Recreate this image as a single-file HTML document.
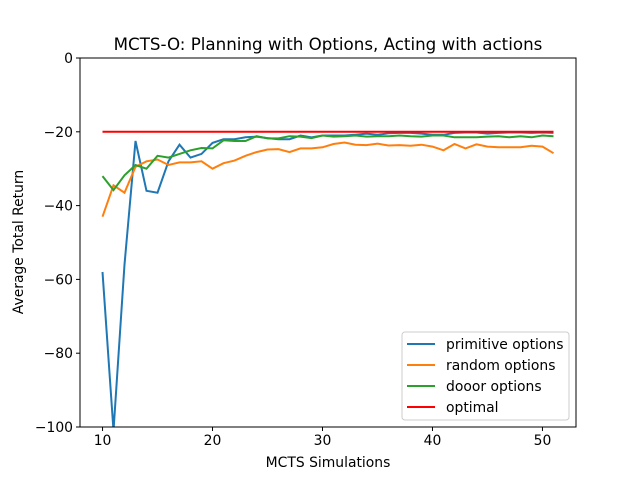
<!DOCTYPE html>
<html><head><meta charset="utf-8"><style>
body{margin:0;background:#fff;}
svg text{font-family:"DejaVu Sans","Liberation Sans",sans-serif;}
</style></head><body>
<svg id="chart" width="640" height="480" xmlns="http://www.w3.org/2000/svg">
<rect width="640" height="480" fill="#fff"/>
<text x="328" y="50" font-size="16.7" text-anchor="middle">MCTS-O: Planning with Options, Acting with actions</text>
<g id="plot"></g>
<rect x="80" y="58" width="496" height="369" fill="none" stroke="#000" stroke-width="1"/>
<text x="328" y="467" font-size="13.9" text-anchor="middle">MCTS Simulations</text>
<text x="23" y="242" font-size="13.9" text-anchor="middle" transform="rotate(-90 23 242)">Average Total Return</text>
<g id="legend">
<rect x="402" y="332" width="167" height="88" rx="3" fill="#fff" stroke="#ccc"/>
</g>
</svg>
<script>
const xs = [10,11,12,13,14,15,16,17,18,19,20,21,22,23,24,25,26,27,28,29,30,31,32,33,34,35,36,37,38,39,40,41,42,43,44,45,46,47,48,49,50,51];
const primitive = [-58,-101,-56,-22.5,-36,-36.5,-28,-23.5,-27,-26,-23,-22,-22,-21.5,-21.3,-21.7,-22,-22,-21,-21.5,-21,-21,-21,-20.8,-20.5,-20.8,-20.4,-20.3,-20.3,-20.5,-20.8,-20.8,-20.3,-20.2,-20.2,-20.5,-20.3,-20.2,-20.2,-20.3,-20.2,-20.3];
const randomOpt = [-43,-34.5,-36.5,-29.5,-28,-27.5,-29,-28.3,-28.3,-28,-30,-28.5,-27.8,-26.5,-25.5,-24.8,-24.7,-25.5,-24.5,-24.5,-24.2,-23.3,-22.9,-23.5,-23.6,-23.2,-23.7,-23.6,-23.8,-23.5,-24,-25,-23.3,-24.5,-23.4,-24,-24.2,-24.2,-24.2,-23.8,-24,-25.8];
const dooor = [-32,-35.8,-31.8,-29,-30,-26.5,-27,-26,-25,-24.4,-24.5,-22.3,-22.5,-22.5,-21.2,-21.8,-21.8,-21.2,-21.3,-21.7,-21,-21.3,-21.2,-21,-21.3,-21.2,-21.2,-21,-21.2,-21.3,-21,-21,-21.5,-21.5,-21.5,-21.3,-21.2,-21.5,-21.2,-21.5,-21,-21.2];
const optimal = xs.map(()=>-20);
const seriesNames = ["primitive options","random options","dooor options","optimal"];
const xTicks = [10,20,30,40,50];
const yTicks = [0,-20,-40,-60,-80,-100];

const NS="http://www.w3.org/2000/svg";
const L=80,R=576,T=58,B=427, XMIN=7.95,XMAX=53.05,YMIN=-100,YMAX=0;
const xScale=v=>L+(v-XMIN)/(XMAX-XMIN)*(R-L);
const yScale=v=>B-(v-YMIN)/(YMAX-YMIN)*(B-T);
const svg=document.getElementById('chart');
const plot=document.getElementById('plot');
function mk(tag,attrs,parent){const e=document.createElementNS(NS,tag);for(const k in attrs)e.setAttribute(k,attrs[k]);(parent||svg).appendChild(e);return e;}
const clip=mk('clipPath',{id:'clp'});mk('rect',{x:L,y:T,width:R-L,height:B-T},clip);
xTicks.forEach(t=>{const x=xScale(t);
 const l=mk('line',{x1:x,x2:x,y1:B,y2:B+4,stroke:'#000'});
 
 
 const tx=mk('text',{x:x,y:B+18,'font-size':13.9,'text-anchor':'middle'});tx.textContent=t;
 
 });
yTicks.forEach(t=>{const y=yScale(t);
 const l=mk('line',{x1:L-4,x2:L,y1:y,y2:y,stroke:'#000'});
 
 
 const tx=mk('text',{x:L-7,y:y+5,'font-size':13.9,'text-anchor':'end'});tx.textContent=String(t).replace('-','\u2212');
 
 });
const colors=['#1f77b4','#ff7f0e','#2ca02c','#ff0000'];
const all=[primitive,randomOpt,dooor,optimal];
const ids=['primitive-options-line','random-options-line','dooor-options-line','optimal-line'];
all.forEach((s,i)=>{
 const d=s.map((v,j)=>(j?'L':'M')+xScale(xs[j]).toFixed(1)+','+yScale(v).toFixed(1)).join('');
 const p=mk('path',{d:d,fill:'none',stroke:colors[i],'stroke-width':2,'clip-path':'url(#clp)'},plot);
 
 
});
const lg=document.getElementById('legend');
seriesNames.forEach((n,i)=>{const y=344+i*21;
 const g=mk('g',{},lg);
 
 
 mk('line',{x1:407,x2:435,y1:y,y2:y,stroke:colors[i],'stroke-width':2},g);
 const t=mk('text',{x:446,y:y+5,'font-size':13.9},g);t.textContent=n;});
</script>
</body></html>
